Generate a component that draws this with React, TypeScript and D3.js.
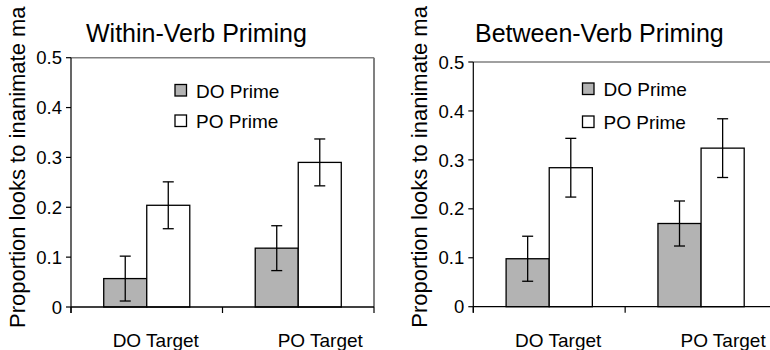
import React from "react";
import * as d3 from "d3";

const width = 770,
  height = 350;

const categories = ["DO Target", "PO Target"];
const primes = ["DO Prime", "PO Prime"];
const yTicks = [0, 0.1, 0.2, 0.3, 0.4, 0.5];
const yTickLabels = ["0", "0.1", "0.2", "0.3", "0.4", "0.5"];

const withinDO = [0.057, 0.118];
const withinDOErr = [0.045, 0.045];
const withinPO = [0.204, 0.29];
const withinPOErr = [0.047, 0.047];

const betweenDO = [0.098, 0.17];
const betweenDOErr = [0.046, 0.046];
const betweenPO = [0.284, 0.324];
const betweenPOErr = [0.06, 0.06];

const fillColor = ["#b3b3b3", "#ffffff"];
const font = "'Liberation Sans', Arial, sans-serif";

function Panel(props) {
  var { title, values, errors, x0, x1, top, bottom, labelX, titleX, legendX, legendY } = props;

  var x = d3
    .scaleBand()
    .domain(categories)
    .range([x0, x1])
    .paddingInner(0.432)
    .paddingOuter(0.216);
  var xs = d3.scaleBand().domain(primes).range([0, x.bandwidth()]);
  var y = d3.scaleLinear().domain([0, 0.5]).range([bottom, top]);

  var step = x.step();
  var labelShift = [9, 22];

  return (
    <g>
      <text x={titleX} y={41.5} fontSize={25} fontFamily={font} fill="#000">
        {title}
      </text>
      <text
        transform={`translate(${labelX},${bottom + 21}) rotate(-90)`}
        fontSize={22}
        fontFamily={font}
        fill="#000"
      >
        Proportion looks to inanimate ma
      </text>

      {/* plot area frame */}
      <line x1={x0} x2={x0 + step * 2} y1={y(0.5)} y2={y(0.5)} stroke="#808080" strokeWidth={1.5} />
      <line x1={x0 + step * 2} x2={x0 + step * 2} y1={y(0.5)} y2={y(0)} stroke="#808080" strokeWidth={2} />

      {/* bars */}
      {categories.map((c, i) =>
        primes.map((p, j) => {
          var v = values[j][i];
          var e = errors[j][i];
          var bx = x(c) + xs(p);
          var cx = bx + xs.bandwidth() / 2;
          return (
            <g key={c + p}>
              <rect
                x={bx}
                y={y(v)}
                width={xs.bandwidth()}
                height={y(0) - y(v)}
                fill={fillColor[j]}
                stroke="#000"
                strokeWidth={1.3}
              />
              <line x1={cx} x2={cx} y1={y(v + e)} y2={y(v - e)} stroke="#000" strokeWidth={1.3} />
              <line x1={cx - 5.5} x2={cx + 5.5} y1={y(v + e)} y2={y(v + e)} stroke="#000" strokeWidth={1.3} />
              <line x1={cx - 5.5} x2={cx + 5.5} y1={y(v - e)} y2={y(v - e)} stroke="#000" strokeWidth={1.3} />
            </g>
          );
        })
      )}

      {/* y axis */}
      <line x1={x0} x2={x0} y1={y(0.5)} y2={y(0) + 6} stroke="#000" strokeWidth={1.2} />
      {yTicks.map((t, i) => (
        <g key={t}>
          <line x1={x0 - 5} x2={x0} y1={y(t)} y2={y(t)} stroke="#000" strokeWidth={1.2} />
          <text
            x={x0 - 9}
            y={y(t)}
            dy="0.36em"
            textAnchor="end"
            fontSize={18.5}
            fontFamily={font}
            fill="#000"
          >
            {yTickLabels[i]}
          </text>
        </g>
      ))}

      {/* x axis */}
      <line x1={x0} x2={x0 + step * 2} y1={y(0)} y2={y(0)} stroke="#000" strokeWidth={1.3} />
      {[0, 1, 2].map(k => (
        <line key={k} x1={x0 + step * k} x2={x0 + step * k} y1={y(0)} y2={y(0) + 6} stroke="#000" strokeWidth={1.2} />
      ))}
      {categories.map((c, i) => (
        <text
          key={c}
          x={x(c) + x.bandwidth() / 2 + labelShift[i]}
          y={346.5}
          textAnchor="middle"
          fontSize={19}
          fontFamily={font}
          fill="#000"
        >
          {c}
        </text>
      ))}

      {/* legend */}
      {primes.map((p, j) => (
        <g key={p}>
          <rect
            x={legendX}
            y={legendY[j]}
            width={11.5}
            height={11.5}
            fill={fillColor[j]}
            stroke="#000"
            strokeWidth={1.3}
          />
          <text x={legendX + 21} y={legendY[j] + 13} fontSize={19} fontFamily={font} fill="#000">
            {p}
          </text>
        </g>
      ))}
    </g>
  );
}

export default function App() {
  return (
    <svg
      width={width}
      height={height}
      style={{ position: "absolute", left: 0, top: 0, background: "#fff" }}
    >
      <rect width={width} height={height} fill="#fff" />
      <Panel
        title="Within-Verb Priming"
        values={[withinDO, withinPO]}
        errors={[withinDOErr, withinPOErr]}
        x0={71}
        x1={374}
        top={57.7}
        bottom={307}
        labelX={24.5}
        titleX={86}
        legendX={175}
        legendY={[84.5, 115]}
      />
      <Panel
        title="Between-Verb Priming"
        values={[betweenDO, betweenPO]}
        errors={[betweenDOErr, betweenPOErr]}
        x0={473.3}
        x1={777}
        top={62}
        bottom={306.7}
        labelX={426.5}
        titleX={475}
        legendX={582.5}
        legendY={[83, 116]}
      />
    </svg>
  );
}
